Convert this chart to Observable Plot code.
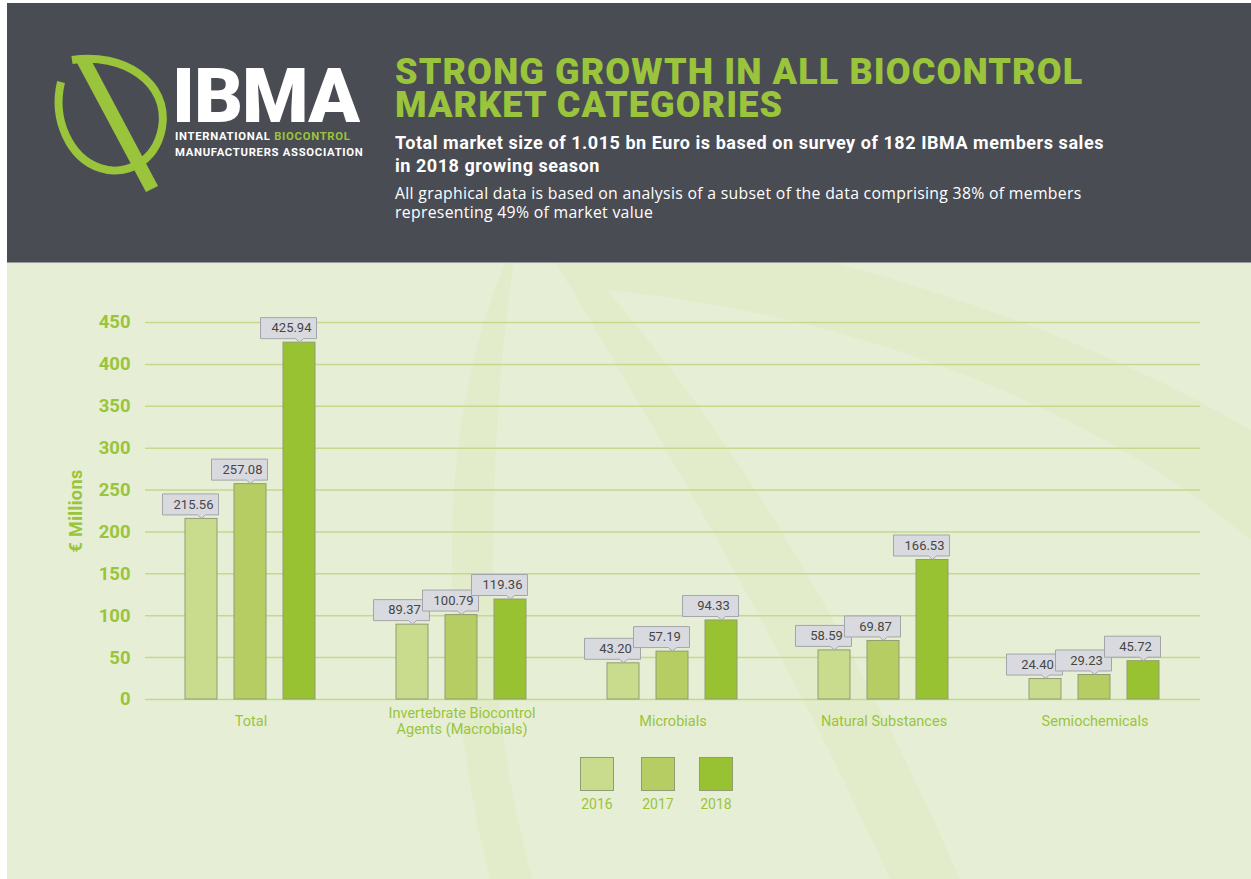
<!DOCTYPE html>
<html>
<head>
<meta charset="utf-8">
<script src="https://cdn.jsdelivr.net/npm/d3@7"></script>
<script src="https://cdn.jsdelivr.net/npm/@observablehq/plot@0.6"></script>
<style>
  html, body { margin: 0; padding: 0; background: #ffffff; }
  body { width: 1251px; height: 879px; position: relative; overflow: hidden; font-family: Roboto, "Open Sans", sans-serif; }
  #header { position: absolute; left: 7px; top: 3px; width: 1244px; height: 259px; background: #4a4c54; }
  #panel { position: absolute; left: 7px; top: 262px; width: 1244px; height: 617px; background: #e6efd6; border-top: 1px solid #9a9a9a; box-sizing: border-box; }
  .abs { position: absolute; white-space: nowrap; }
  .tl { left: 395px; font-size: 36px; line-height: 33px; height: 33px; font-weight: 900; color: #9ac43b; letter-spacing: 1.1px; }
  #sub { left: 395px; top: 131px; font-size: 18px; line-height: 23px; font-weight: 700; color: #ffffff; letter-spacing: 0.55px; }
  #para { left: 395px; top: 184px; font-family: "Open Sans", Roboto, sans-serif; font-size: 15.8px; line-height: 19px; font-weight: 400; color: #ffffff; letter-spacing: 0.3px; }
  #ibma { left: 172px; top: 66px; font-size: 76px; line-height: 60px; font-weight: 900; color: #ffffff; letter-spacing: -1px; }
  #ibmasub { left: 175px; top: 129px; font-size: 11.3px; line-height: 15.5px; font-weight: 700; color: #ffffff; letter-spacing: 0.7px; }
  #ylabel { left: 75px; top: 511px; transform: translate(-50%, -50%) rotate(-90deg); font-size: 18px; font-weight: 700; color: #9ac43b; letter-spacing: 0.4px; }
  .sw { position: absolute; width: 34px; height: 34px; border: 1px solid #8f9d74; box-sizing: border-box; }
  .lt { position: absolute; width: 60px; text-align: center; font-size: 14px; color: #9ac43b; }
  #chart { position: absolute; left: 0; top: 300px; }
</style>
</head>
<body>
<div id="header"></div>
<div id="panel"></div>
<svg class="abs" style="left:0;top:0" width="1251" height="879">
  <defs><clipPath id="pc"><rect x="7" y="263" width="1244" height="616"/></clipPath></defs>
  <g clip-path="url(#pc)" fill="#dde9bf" fill-opacity="0.45">
    <path d="M505,262 C472,345 451,440 452,560 C453,700 470,800 490,879 L532,879 C506,780 492,680 493,560 C494,440 502,340 514,262 Z"/>
    <path d="M555,262 L830,262 C980,300 1130,360 1251,430 L1251,540 C1120,430 900,320 607,290 C700,400 820,560 960,879 L890,879 C790,660 680,470 555,262 Z"/>
  </g>
  <g fill="none" stroke="#9ac43b">
    <path d="M72,60 C122,52 170,82 162,128 C155,165 122,176 100,168 C70,158 52,120 61,82" stroke-width="8"/>
  </g>
  <path d="M76,61 L90,58 L158,186 L146,192 Z" fill="#9ac43b"/>
</svg>
<div id="ibma" class="abs">IBMA</div>
<div id="ibmasub" class="abs">INTERNATIONAL <span style="color:#9ac43b">BIOCONTROL</span><br>MANUFACTURERS ASSOCIATION</div>
<div class="abs tl" style="top:56px">STRONG GROWTH IN ALL BIOCONTROL</div>
<div class="abs tl" style="top:89px">MARKET CATEGORIES</div>
<div id="sub" class="abs">Total market size of 1.015 bn Euro is based on survey of 182 IBMA members sales<br>in 2018 growing season</div>
<div id="para" class="abs">All graphical data is based on analysis of a subset of the data comprising 38% of members<br>representing 49% of market value</div>
<div id="ylabel" class="abs">€ Millions</div>
<div id="chart"></div>
<div id="legend"></div>
<script>
// ---- data ----
const categories = ["Total", "Invertebrate Biocontrol Agents (Macrobials)", "Microbials", "Natural Substances", "Semiochemicals"];
const categoryLabels = ["Total", "Invertebrate Biocontrol\nAgents (Macrobials)", "Microbials", "Natural Substances", "Semiochemicals"];
const years = ["2016", "2017", "2018"];
const values2016 = [215.56, 89.37, 43.20, 58.59, 24.40];
const values2017 = [257.08, 100.79, 57.19, 69.87, 29.23];
const values2018 = [425.94, 119.36, 94.33, 166.53, 45.72];
const yTicks = [0, 50, 100, 150, 200, 250, 300, 350, 400, 450];
const yearColors = ["#c9dc8d", "#b5cd62", "#99c232"];

const seriesByYear = [values2016, values2017, values2018];
const rows = [];
categories.forEach((c, i) => years.forEach((y, j) => rows.push({cat: c, year: y, value: seriesByYear[j][i]})));

const green = "#9ac43b";
const callout = {
  draw(ctx) {
    ctx.moveTo(-39, -25);
    ctx.lineTo(17, -25);
    ctx.lineTo(17, -4);
    ctx.lineTo(4, -4);
    ctx.lineTo(0, -0.5);
    ctx.lineTo(-4, -4);
    ctx.lineTo(-39, -4);
    ctx.closePath();
  }
};

const chart = Plot.plot({
  width: 1251,
  height: 450,
  marginLeft: 145,
  marginRight: 51,
  marginTop: 22,
  marginBottom: 51,
  style: {background: "transparent", fontFamily: "Roboto, 'Open Sans', sans-serif", overflow: "visible"},
  fx: {domain: categories, padding: 0, axis: null},
  x: {domain: years, paddingInner: 0.34, paddingOuter: 0.78, axis: null},
  y: {domain: [0, 450], axis: null},
  color: {domain: years, range: yearColors},
  marks: [
    Plot.gridY(yTicks, {stroke: "#c3d98c", strokeOpacity: 1, strokeWidth: 1.5}),
    Plot.axisY(yTicks, {tickSize: 0, tickPadding: 15, fontSize: 18.5, fontWeight: 700, color: green, label: null}),
    Plot.barY(rows, {fx: "cat", x: "year", y: "value", fill: "year", stroke: "#8f9d74", strokeWidth: 1}),
    Plot.dot(rows, {fx: "cat", x: "year", y: "value", symbol: callout, r: 5, fill: "#d9dadf", stroke: "#a3a5a8", strokeWidth: 1}),
    Plot.text(rows, {fx: "cat", x: "year", y: "value", text: d => d.value.toFixed(2), dx: -8, dy: -14.5, fontSize: 13, fill: "#464646"}),
    Plot.text(categories, {fx: d => d, text: (d, i) => categoryLabels[i], frameAnchor: "bottom", dy: 21, lineAnchor: "middle", lineHeight: 1.15, fontSize: 14.5, fill: green})
  ]
});
document.getElementById("chart").appendChild(chart);

// legend
const legend = document.getElementById("legend");
const legendX = [580, 641, 699];
years.forEach((y, i) => {
  const s = document.createElement("div");
  s.className = "sw";
  s.style.left = legendX[i] + "px";
  s.style.top = "757px";
  s.style.background = yearColors[i];
  legend.appendChild(s);
  const t = document.createElement("div");
  t.className = "lt";
  t.textContent = y;
  t.style.left = (legendX[i] + 17 - 30) + "px";
  t.style.top = "796px";
  legend.appendChild(t);
});
</script>
</body>
</html>
